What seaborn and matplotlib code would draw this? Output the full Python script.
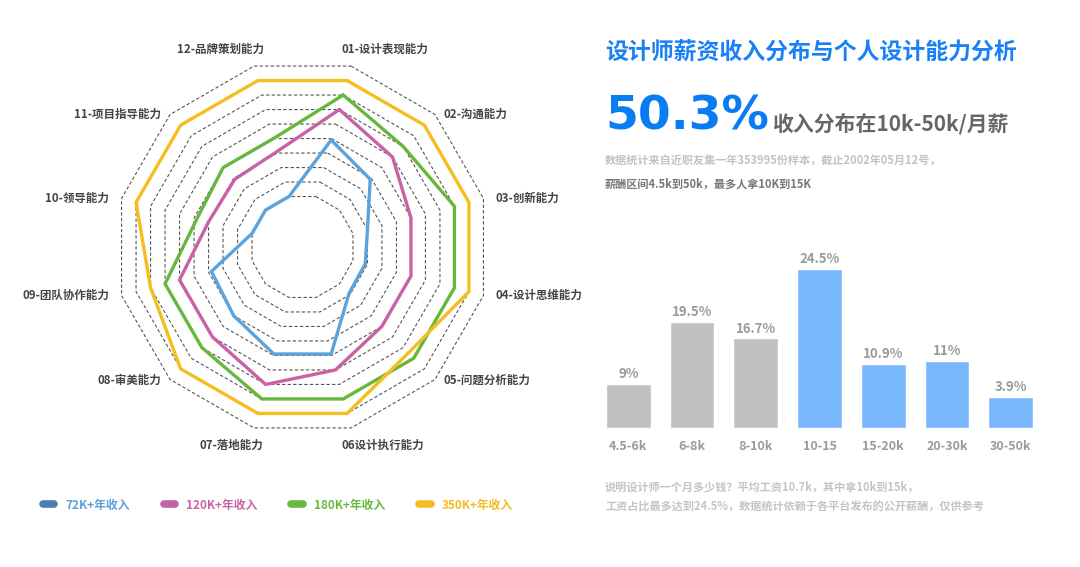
import numpy as np
import matplotlib
matplotlib.use('Agg')
import matplotlib.pyplot as plt
from matplotlib.lines import Line2D
import seaborn as sns

# Radar: 12 abilities, scores on the 1-10 ring scale
abilities = ['01-设计表现能力', '02-沟通能力', '03-创新能力', '04-设计思维能力',
             '05-问题分析能力', '06设计执行能力', '07-落地能力', '08-审美能力',
             '09-团队协作能力', '10-领导能力', '11-项目指导能力', '12-品牌策划能力']
income_groups = ['72K+年收入', '120K+年收入', '180K+年收入', '350K+年收入']
score_72k = [4.9, 3.9, 2.0, 1.85, 1.9, 4.9, 4.9, 4.0, 3.8, 1.0, 1.0, 1.0]
score_120k = [7.0, 6.0, 5.0, 5.0, 5.0, 6.0, 7.0, 6.0, 6.0, 4.0, 3.9, 4.1]
score_180k = [8.0, 7.0, 8.0, 8.0, 8.0, 8.0, 8.0, 7.0, 7.0, 4.8, 5.0, 5.0]
score_350k = [9.0, 9.0, 9.0, 9.0, 7.5, 9.0, 9.0, 9.0, 8.0, 9.0, 9.0, 9.0]
ring_levels = list(range(1, 11))

# Bars: salary distribution
salary_ranges = ['4.5-6k', '6-8k', '8-10k', '10-15', '15-20k', '20-30k', '30-50k']
share_labels = ['9%', '19.5%', '16.7%', '24.5%', '10.9%', '11%', '3.9%']
# bar heights as drawn in the picture (the designer did not scale them exactly)
bar_heights = [6.8, 16.3, 13.8, 24.5, 9.9, 10.3, 4.8]

sns.set_theme(style='white')
plt.rcParams['font.family'] = ['Noto Sans CJK SC', 'DejaVu Sans']

W, H = 1080, 567
fig = plt.figure(figsize=(W / 100, H / 100), dpi=100)
fig.patch.set_facecolor('white')

# ---------------- radar ----------------
line_colors = ['#5aa3dc', '#c862a5', '#67b73c', '#f6bd1f']
marker_colors = ['#4b7fb2', '#c463a3', '#6ab93f', '#f5bb22']
text_colors = ['#5c9fd8', '#c863a6', '#6ab93f', '#f5bb22']

unit = 15.01      # px per ring
hole = 2.48       # empty centre, in ring units
cx, cy = 302.5, 247
half = 210
axr = fig.add_axes([(cx - half) / W, 1 - (cy + half) / H, 2 * half / W, 2 * half / H])
lim = half / unit
axr.set_xlim(-lim, lim)
axr.set_ylim(-lim, lim)
axr.axis('off')

theta = np.deg2rad(75 - 30 * np.arange(len(abilities)))
theta_c = np.append(theta, theta[0])

for lv in ring_levels:
    r = lv + hole
    axr.plot(r * np.cos(theta_c), r * np.sin(theta_c), color='#555555',
             lw=0.8, ls=(0, (3, 2)), zorder=1)

all_scores = [score_72k, score_120k, score_180k, score_350k]
for scores, col in zip(all_scores, line_colors):
    r = np.array(scores + scores[:1]) + hole
    axr.plot(r * np.cos(theta_c), r * np.sin(theta_c), color=col, lw=2.4,
             solid_joinstyle='miter', zorder=3)

lab_r = 200 / unit
for name, t in zip(abilities, theta):
    c, s = np.cos(t), np.sin(t)
    ha = 'left' if c > 0 else 'right'
    if abs(c) > 0.5:
        x, y = lab_r * c, 0.94 * lab_r * s
    else:
        x, y = 0.75 * lab_r * c, 198 / unit * np.sign(s)
    axr.text(x, y, name, ha=ha, va='center', fontsize=8.3, color='#444444',
             fontweight='bold')

handles = [Line2D([0], [0], color=mc, lw=5.5, solid_capstyle='round')
           for mc in marker_colors]
leg = fig.legend(handles, income_groups, loc='center left',
                 bbox_to_anchor=(42.5 / W, 1 - 505 / H), ncol=4, frameon=False,
                 handlelength=1.0, handletextpad=0.9, columnspacing=2.9,
                 borderpad=0, borderaxespad=0, labelcolor=text_colors,
                 prop={'size': 8.5, 'weight': 'bold'})

# ---------------- right side texts ----------------
x0 = 605 / W
fig.text(x0, 1 - 53 / H, '设计师薪资收入分布与个人设计能力分析', fontsize=16.5,
         fontweight='bold', color='#1a80f5', va='center')
fig.text(x0, 1 - 130 / H, '50.3%', fontsize=34, fontweight='bold', color='#0a7cf2',
         va='baseline', family=['DejaVu Sans'])
fig.text(772 / W, 1 - 130 / H, '收入分布在10k-50k/月薪', fontsize=15,
         fontweight='bold', color='#666666', va='baseline')
fig.text(x0, 1 - 160 / H, '数据统计来自近职友集一年353995份样本，截止2002年05月12号，',
         fontsize=8, color='#c2c2c2', va='center', fontweight='bold')
fig.text(x0, 1 - 184 / H, '薪酬区间4.5k到50k，最多人拿10K到15K',
         fontsize=8, color='#777777', va='center', fontweight='bold')
fig.text(x0, 1 - 487 / H, '说明设计师一个月多少钱？平均工资10.7k，其中拿10k到15k，',
         fontsize=8, color='#c4c4c4', va='center', fontweight='bold')
fig.text(x0, 1 - 507 / H, '工资占比最多达到24.5%，数据统计依赖于各平台发布的公开薪酬，仅供参考',
         fontsize=8, color='#c4c4c4', va='center', fontweight='bold')

# ---------------- bars ----------------
bar_colors = ['#c0c0c0'] * 3 + ['#7ab8fd'] * 4
step = 63.75
bar_left = 628.3 - step / 2
axb = fig.add_axes([bar_left / W, 139 / H, 7 * step / W, 194.7 / H])
sns.barplot(x=salary_ranges, y=bar_heights, hue=salary_ranges, palette=bar_colors,
            width=0.7, saturation=1, legend=False, ax=axb)
for cont, lab in zip(axb.containers, share_labels):
    axb.bar_label(cont, labels=[lab], padding=2, fontsize=9.5, color='#9a9a9a',
                  fontweight='bold')
axb.set_xlim(-0.5, 6.5)
axb.set_ylim(0, 30)
axb.set_yticks([])
axb.set_xlabel('')
axb.set_ylabel('')
axb.tick_params(axis='x', length=0, pad=9, labelsize=9, labelcolor='#9a9a9a')
for lbl in axb.get_xticklabels():
    lbl.set_fontweight('bold')
sns.despine(ax=axb, left=True, bottom=True)
axb.patch.set_alpha(0)

fig.savefig('out.png', dpi=100)
